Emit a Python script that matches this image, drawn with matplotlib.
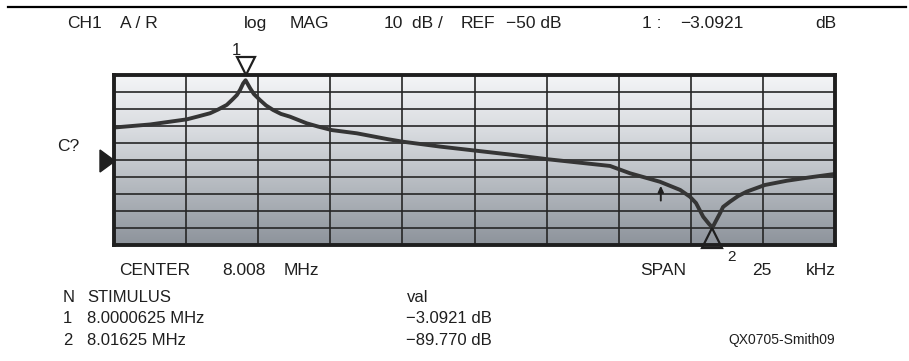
"""
Network analyzer screen: crystal response, log MAG 10 dB/div, REF -50 dB.
"""
import matplotlib
matplotlib.use("Agg")
import matplotlib.pyplot as plt
import numpy as np
from matplotlib.colors import LinearSegmentedColormap
from matplotlib.lines import Line2D
from matplotlib.patches import FancyArrowPatch, Polygon
from matplotlib.ticker import NullFormatter
from matplotlib.transforms import offset_copy, blended_transform_factory

W, H = 909, 361

# --- Data --------------------------------------------------------------------
freq_mhz = [7.99550, 7.99675, 7.99802, 7.99841, 7.99883, 7.99911, 7.99941,
            7.99959, 7.99976, 7.99987, 7.99998, 8.0000625, 8.00022, 8.00035,
            8.00056, 8.00077, 8.00102, 8.00129, 8.00160, 8.00218, 8.00257,
            8.00305, 8.00392, 8.00501, 8.00550, 8.00680, 8.00804, 8.00923,
            8.01056, 8.01166, 8.01270, 8.01339, 8.01391, 8.01443, 8.01513,
            8.01547, 8.01568, 8.01593, 8.01613, 8.01625, 8.01635, 8.01651,
            8.01662, 8.01686, 8.01714, 8.01744, 8.01807, 8.01883, 8.01963,
            8.02050]
level_db = [-30.9, -29.1, -26.1, -24.4, -22.5, -20.3, -17.6,
            -14.7, -11.8, -8.8, -4.9, -3.09, -7.8, -11.2,
            -14.7, -17.9, -20.6, -22.9, -24.5, -28.4, -30.3,
            -32.4, -34.3, -37.8, -39.2, -42.1, -44.5, -46.8,
            -49.6, -51.6, -53.5, -57.8, -60.3, -62.8, -67.6,
            -71.6, -75.3, -83.4, -87.6, -89.77, -86.5, -81.4,
            -77.6, -74.5, -71.2, -68.6, -64.7, -62.2, -60.2,
            -58.2]

marker_freq = [8.0000625, 8.01625]
marker_db = [-3.0921, -89.770]
marker_label = ["1", "2"]

center_mhz = 8.008
span_khz = 25
ref_db = -50
scale_db = 10
arrow_freq = 8.01446

INK = "#1f1f1f"
TRACE = "#353535"
FONT = ["Liberation Sans Narrow", "Liberation Sans", "DejaVu Sans"]
plt.rcParams["font.family"] = FONT


def px(x, y):
    """pixel position -> figure fraction"""
    return x / W, 1 - y / H


def label(x, y, s, size=12.5, **kw):
    """text whose baseline sits at pixel row y"""
    fx, fy = px(x, y)
    fig.text(fx, fy, s, fontsize=size, color=INK, va="baseline", **kw)


fig = plt.figure(figsize=(W / 100, H / 100), dpi=100)
fig.patch.set_facecolor("white")
ax = fig.add_axes([114 / W, 1 - 245 / H, 721 / W, 170 / H])

half = span_khz / 2 / 1000
xlim = (center_mhz - half, center_mhz + half)
ylim = (ref_db - 5 * scale_db, ref_db + 5 * scale_db)

# screen background gradient
cmap = LinearSegmentedColormap.from_list(
    "scr", ["#8d939b", "#b3b8be", "#d8dbdf", "#f4f5f7"])
grad = np.linspace(0, 1, 256).reshape(-1, 1)
ax.imshow(grad, aspect="auto", cmap=cmap, origin="lower",
          extent=[0, 1, 0, 1], transform=ax.transAxes, zorder=0)
ax.set_xlim(*xlim)
ax.set_ylim(*ylim)

ax.set_xticks(np.linspace(xlim[0], xlim[1], 11))
ax.set_yticks(np.arange(ylim[0], ylim[1] + 1, scale_db))
ax.xaxis.set_major_formatter(NullFormatter())
ax.yaxis.set_major_formatter(NullFormatter())
ax.grid(True, color="#262626", linewidth=1.2, zorder=1)
ax.tick_params(length=0, labelbottom=False, labelleft=False)
for s in ax.spines.values():
    s.set_linewidth(2.8)
    s.set_color(INK)
    s.set_zorder(5)

ax.plot(freq_mhz, level_db, color=TRACE, linewidth=2.8, zorder=3,
        solid_joinstyle="round")

# marker 1: open triangle above the frame pointing down at the peak
top = blended_transform_factory(ax.transData, ax.transAxes)
ax.plot([marker_freq[0]], [1], marker="v", markersize=13, mfc="none",
        mec=INK, mew=1.6, clip_on=False, zorder=6,
        transform=offset_copy(top, fig=fig, y=9, units="dots"))
label(232, 55, marker_label[0], size=12)

# marker 2: open triangle pointing up at the notch
ax.plot([marker_freq[1]], [marker_db[1]], marker="^", markersize=14, mfc="none",
        mec=INK, mew=1.6, clip_on=False, zorder=6,
        transform=offset_copy(ax.transData, fig=fig, y=-10, units="dots"))
label(727, 261, marker_label[1], size=11)

# small arrow under the trace
ax.add_patch(FancyArrowPatch((arrow_freq, -75.5), (arrow_freq, -63.5),
                             arrowstyle="-|>,head_width=1.6,head_length=3.5",
                             color=INK, lw=1.4, zorder=4))

# reference level pointer
ref_tri = Polygon([px(115, 161), px(100, 150), px(100, 172)], closed=True,
                  transform=fig.transFigure, facecolor=INK, edgecolor=INK)
fig.add_artist(ref_tri)
label(57, 151, "C?", size=12.5)

ax.text(0.975, -10, "8.0000625 MHz Max", transform=top, ha="right", va="center",
        fontsize=13, color=INK, zorder=4,
        bbox=dict(boxstyle="square,pad=0.12", facecolor="#eef0f2", edgecolor="none"))

# top rule
fig.add_artist(Line2D([8 / W, 906 / W], [1 - 7 / H] * 2, color="black",
                      linewidth=1.6, transform=fig.transFigure))

# header
hy = 28
label(67, hy, "CH1")
label(120, hy, "A / R")
label(244, hy, "log")
label(290, hy, "MAG")
label(384, hy, f"{scale_db}")
label(412, hy, "dB /")
label(461, hy, "REF")
label(506, hy, f"\u2212{abs(ref_db)} dB")
label(642, hy, "1 :")
label(680, hy, f"\u2212{abs(marker_db[0]):.4f}")
label(815, hy, "dB")

# footer
fy = 275
label(119, fy, "CENTER")
label(222, fy, f"{center_mhz:.3f}")
label(284, fy, "MHz")
label(640, fy, "SPAN")
label(752, fy, f"{span_khz}")
label(806, fy, "kHz")

label(63, 302, "N", size=12)
label(87, 302, "STIMULUS", size=12)
label(407, 302, "val", size=12)
for i, (f, v) in enumerate(zip(marker_freq, marker_db)):
    y = 323 + 22 * i
    label(63, y, marker_label[i], size=12)
    fs = f"{f:.7f}".rstrip("0")
    label(87, y, f"{fs} MHz", size=12)
    dec = 4 if i == 0 else 3
    label(406, y, f"\u2212{abs(v):.{dec}f} dB", size=12)

label(835, 344, "QX0705-Smith09", size=10, ha="right")

fig.savefig("out.png", dpi=100)
